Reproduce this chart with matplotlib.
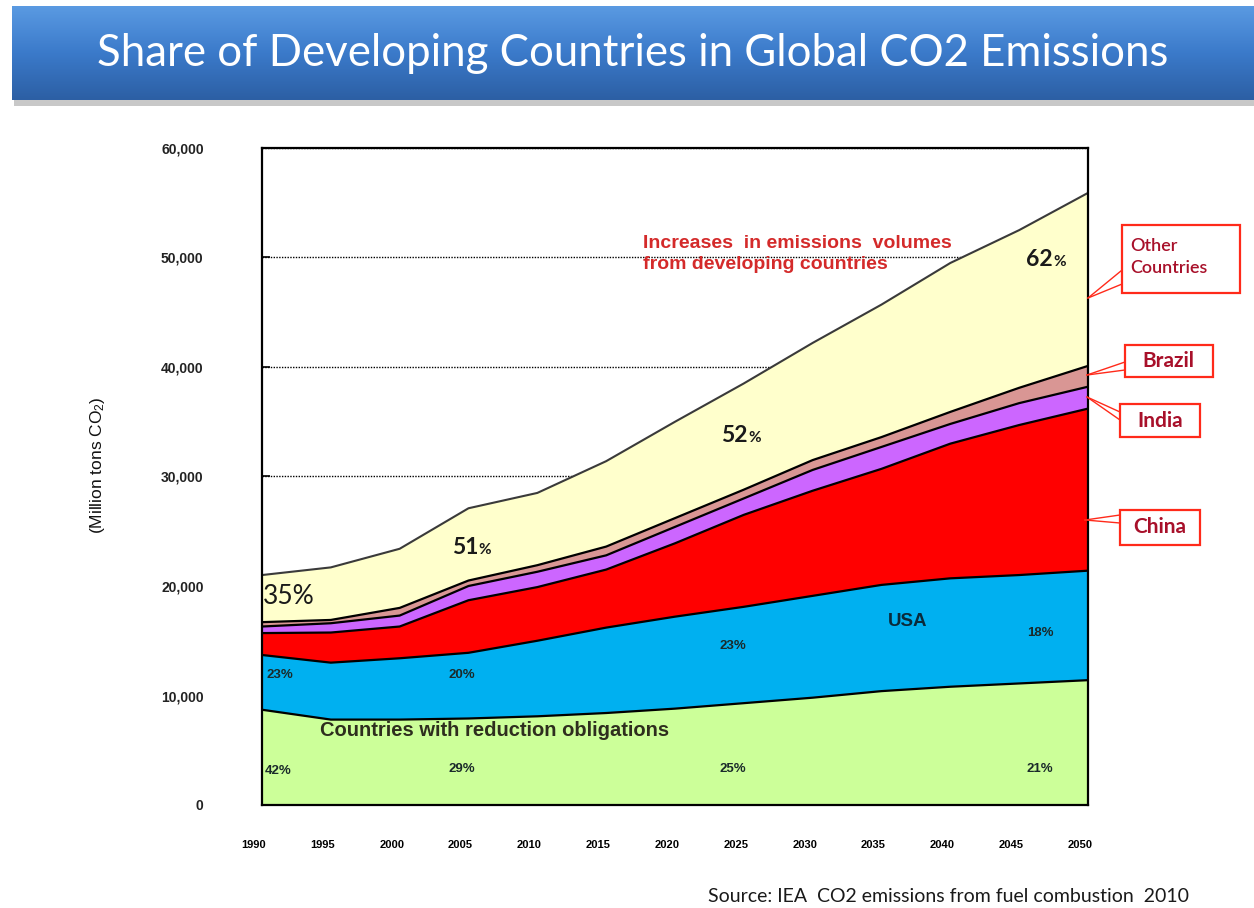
import numpy as np
import matplotlib
matplotlib.use('Agg')
import matplotlib.pyplot as plt
from matplotlib.transforms import ScaledTranslation
from matplotlib.patches import Rectangle
from matplotlib.lines import Line2D

# ---------------- data (million tons CO2) ----------------
years = [1990, 1995, 2000, 2005, 2010, 2015, 2020, 2025, 2030, 2035, 2040, 2045, 2050]
year_labels = [str(y) for y in years]
reduction = [8700, 7800, 7800, 7900, 8100, 8400, 8800, 9300, 9800, 10400, 10800, 11100, 11400]
usa = [5000, 5200, 5600, 6000, 6900, 7800, 8400, 8800, 9300, 9700, 9900, 9900, 10000]
china = [2000, 2750, 2900, 4800, 4900, 5300, 6700, 8400, 9600, 10600, 12300, 13700, 14800]
india = [600, 850, 1000, 1300, 1400, 1300, 1500, 1500, 1900, 2000, 1800, 2000, 2000]
brazil = [400, 300, 700, 500, 600, 800, 800, 800, 900, 900, 1100, 1400, 1900]
other = [4300, 4800, 5400, 6600, 6600, 7800, 8800, 9700, 10700, 12100, 13600, 14400, 15800]
y_ticks = [0, 10000, 20000, 30000, 40000, 50000, 60000]
y_tick_labels = ['0', '10,000', '20,000', '30,000', '40,000', '50,000', '60,000']

W, H = 1254, 908
fig = plt.figure(figsize=(W / 100, H / 100), dpi=100)


def fx(x):
    return x / W


def fy(y):
    return 1 - y / H


# ---------------- title banner ----------------
shadow = fig.add_axes([fx(14), fy(106), fx(1254) - fx(14), fy(12) - fy(106)])
shadow.set_axis_off()
shadow.add_patch(Rectangle((0, 0), 1, 1, color='#c8c8c8', transform=shadow.transAxes))
ban = fig.add_axes([fx(12), fy(100), fx(1254) - fx(12), fy(6) - fy(100)])
ban.set_axis_off()
c_top = np.array([0x5a, 0x9a, 0xe2]) / 255
c_mid = np.array([0x3b, 0x7a, 0xca]) / 255
c_bot = np.array([0x2c, 0x5f, 0xa4]) / 255
t = np.linspace(0, 1, 100)[:, None]
grad = np.where(t < 0.5, c_top + (c_mid - c_top) * (t / 0.5), c_mid + (c_bot - c_mid) * ((t - 0.5) / 0.5))
ban.imshow(grad[:, None, :].repeat(2, axis=1), aspect='auto', extent=[0, 1, 0, 1])
ban.set_xlim(0, 1)
ban.set_ylim(0, 1)
fig.text(fx(633), fy(53), 'Share of Developing Countries in Global CO2 Emissions',
         color='white', fontsize=31.5, family='Lato', ha='center', va='center')

# ---------------- main chart ----------------
ax = fig.add_axes([fx(262), fy(805), fx(1088) - fx(262), fy(148) - fy(805)])
series = [reduction, usa, china, india, brazil, other]
colors = ['#ccff99', '#00b0f0', '#ff0000', '#cc66ff', '#d99694', '#ffffcc']
ax.stackplot(years, *series, colors=colors, linewidth=0, zorder=2)
cum = np.cumsum(np.array(series), axis=0)
for k in range(cum.shape[0] - 1):
    ax.plot(years, cum[k], color='black', lw=1.6, zorder=3)
ax.plot(years, cum[-1], color='#3a3a3a', lw=1.5, zorder=3)

ax.set_xlim(years[0], years[-1])
ax.set_ylim(0, 60000)
ax.set_yticks(y_ticks)
ax.set_yticklabels(y_tick_labels)
ax.set_xticks(years)
ax.set_xticklabels(year_labels)
ax.yaxis.grid(True, linestyle=(0, (1, 1)), color='black', lw=1.0, zorder=1)
ax.set_axisbelow(True)
for s in ax.spines.values():
    s.set_linewidth(1.6)
    s.set_color('black')
    s.set_zorder(5)
ax.tick_params(axis='y', direction='in', length=6, width=1.2, pad=42, labelsize=10,
               colors='black')
ax.tick_params(axis='x', direction='in', length=7, width=1.4, pad=25, labelsize=8)
for lbl in ax.get_yticklabels():
    lbl.set_fontweight('bold')
    lbl.set_family('Liberation Sans')
    lbl.set_color('#222222')
for lbl in ax.get_xticklabels():
    lbl.set_fontweight('bold')
    lbl.set_family('Liberation Sans')
    lbl.set_transform(lbl.get_transform() + ScaledTranslation(-8 / 100, 0, fig.dpi_scale_trans))
for tl in ax.xaxis.get_ticklines():
    tl.set_zorder(6)

plt.rcParams['mathtext.default'] = 'regular'
fig.text(fx(97), fy(465), r'(Million tons CO$_2$)', rotation=90, fontsize=12.5,
         family='Liberation Sans', ha='center', va='center', color='#111111')

# ---------------- in-chart labels ----------------
def label(x, y, s, **kw):
    fig.text(fx(x), fy(y), s, ha='center', va='center', **kw)


label(289, 597, '35%', fontsize=19, family='Lato', color='#1a1a1a')
for (x, y, n) in [(470, 548, '51'), (740, 436, '52'), (1045, 260, '62')]:
    fig.text(fx(x + 8), fy(y), n, ha='right', va='center', fontsize=16.5, family='Lato',
             fontweight='bold', color='#1a1a1a')
    fig.text(fx(x + 8), fy(y + 2), '%', ha='left', va='center', fontsize=11, family='Lato',
             fontweight='bold', color='#1a1a1a')
small = dict(fontsize=9.5, family='Liberation Sans', fontweight='bold', color='#1a2a2a')
label(280, 675, '23%', **small)
label(462, 675, '20%', **small)
label(733, 646, '23%', **small)
label(1040, 633, '18%', **small)
label(278, 771, '42%', **small)
label(462, 769, '29%', **small)
label(733, 769, '25%', **small)
label(1040, 769, '21%', **small)
label(908, 621, 'USA', fontsize=13.5, family='Liberation Sans', fontweight='bold', color='#0a2a3a')
label(495, 731, 'Countries with reduction obligations', fontsize=14.5, family='Liberation Sans',
      fontweight='bold', color='#2e2e1e')
fig.text(fx(643), fy(254), 'Increases  in emissions  volumes\nfrom developing countries',
         ha='left', va='center', fontsize=14, family='Liberation Sans', fontweight='bold',
         color='#d42a2a', linespacing=1.3)

# ---------------- callouts ----------------
red = '#ff2a1a'
txtc = '#a8102a'


def callout(box, text, tx, ty, pts, target, **kw):
    x0, y0, x1, y1 = box
    fig.patches.append(Rectangle((fx(x0), fy(y1)), fx(x1) - fx(x0), fy(y0) - fy(y1),
                                 transform=fig.transFigure, fill=True, facecolor='white',
                                 edgecolor=red, lw=1.6, zorder=10))
    for (px, py) in pts:
        fig.lines.append(Line2D([fx(px), fx(target[0])], [fy(py), fy(target[1])],
                                transform=fig.transFigure, color=red, lw=1.0, zorder=9))
    fig.text(fx(tx), fy(ty), text, color=txtc, zorder=11, **kw)


callout((1122, 225, 1240, 293), 'Other\nCountries', 1130, 257,
        [(1127, 266), (1127, 282)], (1088, 298),
        ha='left', va='center', fontsize=13, family='Lato', fontweight='semibold',
        linespacing=1.4)
callout((1125, 345, 1213, 377), 'Brazil', 1168, 361,
        [(1125, 362), (1125, 370)], (1087, 375),
        ha='center', va='center', fontsize=15, family='Lato', fontweight='bold')
callout((1120, 404, 1200, 437), 'India', 1160, 421,
        [(1120, 412), (1120, 420)], (1087, 397),
        ha='center', va='center', fontsize=15, family='Lato', fontweight='bold')
callout((1120, 510, 1200, 545), 'China', 1160, 527,
        [(1120, 515), (1120, 523)], (1085, 520),
        ha='center', va='center', fontsize=15, family='Lato', fontweight='bold')

fig.text(fx(708), fy(897), 'Source: IEA  CO2 emissions from fuel combustion  2010',
         ha='left', va='center', fontsize=14, family='Lato', color='#1a1a1a')

fig.savefig('out.png', dpi=100)
